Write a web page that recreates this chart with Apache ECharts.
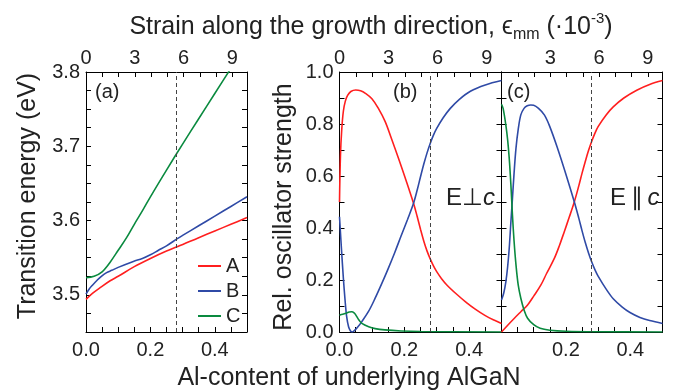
<!DOCTYPE html>
<html>
<head>
<meta charset="utf-8">
<script src="https://cdn.jsdelivr.net/npm/echarts@6/dist/echarts.min.js"></script>
<style>
html, body { margin: 0; padding: 0; background: #fff; }
#chart { width: 679px; height: 392px; }
</style>
</head>
<body>
<div id="chart"></div>
<script>
var FONT = '"Liberation Sans", Arial, Helvetica, sans-serif';
var RED = '#ff1f1f', BLUE = '#2f4aa6', GREEN = '#0a8a3f';

// tick labels
var alLabels = [0, 0.2, 0.4];
var alLabelsC = [0.2, 0.4];
var strainLabels = [0, 3, 6, 9];
var strainLabelsC = [3, 6, 9];
var energyLabels = [3.5, 3.6, 3.7, 3.8];
var strengthLabels = [0, 0.2, 0.4, 0.6, 0.8, 1.0];
var strainMax = 9.9;      // strain at Al = 0.5
var dashAl = 0.285;       // vertical dashed marker

// (a) transition energy (eV) vs Al-content
var energyA = [[0, 3.494], [0.02, 3.502], [0.045, 3.510], [0.075, 3.519], [0.1, 3.525], [0.15, 3.538],
  [0.2, 3.549], [0.25, 3.559], [0.285, 3.565], [0.35, 3.577], [0.4, 3.586], [0.45, 3.595], [0.5, 3.604]];
var energyB = [[0, 3.501], [0.01, 3.508], [0.02, 3.513], [0.033, 3.519], [0.045, 3.524], [0.064, 3.530],
  [0.08, 3.533], [0.1, 3.537], [0.147, 3.545], [0.175, 3.549], [0.2, 3.554], [0.225, 3.560], [0.25, 3.566],
  [0.285, 3.576], [0.3, 3.580], [0.35, 3.593], [0.4, 3.606], [0.45, 3.619], [0.5, 3.632]];
var energyC = [[0, 3.523], [0.025, 3.525], [0.05, 3.531], [0.075, 3.544], [0.1, 3.560], [0.126, 3.577],
  [0.15, 3.595], [0.175, 3.613], [0.2, 3.632], [0.25, 3.668], [0.3, 3.703], [0.35, 3.737], [0.4, 3.771],
  [0.45, 3.805], [0.5, 3.839]];

// (b) relative oscillator strength, E perpendicular to c
var perpA = [[0, 0.50], [0.003, 0.68], [0.007, 0.78], [0.012, 0.85], [0.018, 0.888], [0.025, 0.910],
  [0.035, 0.925], [0.05, 0.931], [0.065, 0.928], [0.08, 0.918], [0.1, 0.897], [0.12, 0.860], [0.141, 0.809],
  [0.16, 0.745], [0.182, 0.668], [0.2, 0.603], [0.215, 0.547], [0.2285, 0.495], [0.24, 0.443], [0.25, 0.395],
  [0.26, 0.350], [0.27, 0.312], [0.28, 0.281], [0.29, 0.254], [0.3, 0.232], [0.315, 0.205], [0.332, 0.180],
  [0.36, 0.147], [0.39, 0.115], [0.42, 0.087], [0.45, 0.063], [0.48, 0.044], [0.5, 0.033]];
var perpB = [[0, 0.443], [0.006, 0.32], [0.012, 0.206], [0.017, 0.125], [0.022, 0.060], [0.028, 0.020],
  [0.034, 0.004], [0.039, 0.0], [0.045, 0.004], [0.055, 0.017], [0.069, 0.040], [0.09, 0.080], [0.11, 0.130],
  [0.13, 0.185], [0.15, 0.243], [0.17, 0.304], [0.19, 0.369], [0.21, 0.433], [0.2285, 0.495], [0.24, 0.547],
  [0.25, 0.597], [0.26, 0.645], [0.27, 0.688], [0.28, 0.725], [0.29, 0.757], [0.3, 0.783], [0.32, 0.824],
  [0.342, 0.860], [0.37, 0.895], [0.404, 0.926], [0.45, 0.950], [0.5, 0.967]];
var perpC = [[0, 0.065], [0.01, 0.068], [0.02, 0.072], [0.03, 0.077], [0.038, 0.078], [0.045, 0.074],
  [0.05, 0.066], [0.06, 0.046], [0.069, 0.033], [0.09, 0.020], [0.11, 0.013], [0.14, 0.008], [0.19, 0.004],
  [0.25, 0.002], [0.5, 0.0]];

// (c) relative oscillator strength, E parallel to c
var parA = [[0, 0.0], [0.02, 0.027], [0.04, 0.053], [0.06, 0.078], [0.081, 0.104], [0.1, 0.138], [0.122, 0.180],
  [0.14, 0.225], [0.164, 0.283], [0.18, 0.333], [0.195, 0.386], [0.21, 0.440], [0.226, 0.500], [0.24, 0.562],
  [0.25, 0.610], [0.26, 0.655], [0.27, 0.697], [0.28, 0.733], [0.29, 0.764], [0.3, 0.790], [0.325, 0.835],
  [0.347, 0.866], [0.38, 0.900], [0.42, 0.930], [0.46, 0.952], [0.5, 0.967]];
var parB = [[0, 0.123], [0.007, 0.150], [0.0135, 0.193], [0.019, 0.250], [0.024, 0.322], [0.029, 0.420],
  [0.034, 0.514], [0.039, 0.610], [0.045, 0.707], [0.052, 0.780], [0.06, 0.835], [0.07, 0.860], [0.08, 0.870],
  [0.091, 0.873], [0.1, 0.872], [0.115, 0.860], [0.133, 0.835], [0.15, 0.790], [0.174, 0.707], [0.2, 0.607],
  [0.226, 0.501], [0.24, 0.438], [0.25, 0.390], [0.26, 0.345], [0.27, 0.305], [0.28, 0.270], [0.29, 0.240],
  [0.3, 0.215], [0.325, 0.165], [0.347, 0.128], [0.375, 0.096], [0.399, 0.075], [0.43, 0.056], [0.46, 0.044],
  [0.5, 0.033]];
var parC = [[0, 0.876], [0.005, 0.860], [0.0135, 0.796], [0.019, 0.740], [0.024, 0.668], [0.029, 0.570],
  [0.034, 0.450], [0.039, 0.350], [0.045, 0.258], [0.052, 0.180], [0.06, 0.130], [0.07, 0.085], [0.081, 0.053],
  [0.1, 0.028], [0.12, 0.014], [0.15, 0.007], [0.2, 0.003], [0.3, 0.001], [0.5, 0.0]];

function hasLabel(list, v) {
  for (var i = 0; i < list.length; i++) {
    if (Math.abs(list[i] - v) < 1e-6) return true;
  }
  return false;
}

function frameAxis(extra) {
  var ax = {
    type: 'value',
    axisLine: { show: true, onZero: false, lineStyle: { color: '#000', width: 1 } },
    axisTick: { show: true, inside: true, length: 5, lineStyle: { color: '#000', width: 1 } },
    splitLine: { show: false }
  };
  for (var k in extra) ax[k] = extra[k];
  return ax;
}

function alAxis(grid, labels) {
  return frameAxis({
    gridIndex: grid, position: 'bottom', min: 0, max: 0.5, interval: 0.05,
    axisLabel: { color: '#222', fontSize: 20, fontFamily: FONT, margin: 8,
      formatter: function (v) { return hasLabel(labels, v) ? v.toFixed(1) : ''; } }
  });
}
function strainAxis(grid, labels) {
  return frameAxis({
    gridIndex: grid, position: 'top', min: 0, max: strainMax, interval: 1,
    axisLabel: { color: '#222', fontSize: 20, fontFamily: FONT, margin: 4,
      formatter: function (v) { return hasLabel(labels, v) ? String(v) : ''; } }
  });
}
function sideAxis(grid, pos, min, max, step, labels, digits) {
  return frameAxis({
    gridIndex: grid, position: pos, min: min, max: max, interval: step,
    axisLabel: { show: !!labels, color: '#222', fontSize: 20, fontFamily: FONT, margin: 6,
      formatter: function (v) { return labels && hasLabel(labels, v) ? v.toFixed(digits) : ''; } }
  });
}

function curve(name, color, data, axis) {
  return {
    name: name, type: 'line', xAxisIndex: axis, yAxisIndex: axis, data: data,
    showSymbol: false, symbol: 'none', smooth: 0.35,
    lineStyle: { color: color, width: 1.6 }, itemStyle: { color: color },
    silent: true, z: 3
  };
}
function dashed() {
  return {
    silent: true, symbol: 'none', label: { show: false }, animation: false,
    lineStyle: { type: [4, 3], color: '#444', width: 1 },
    data: [{ xAxis: dashAl }]
  };
}

var series = [
  curve('A', RED, energyA, 0), curve('B', BLUE, energyB, 0), curve('C', GREEN, energyC, 0),
  curve('A', RED, perpA, 2), curve('B', BLUE, perpB, 2), curve('C', GREEN, perpC, 2),
  curve('A', RED, parA, 4), curve('B', BLUE, parB, 4), curve('C', GREEN, parC, 4)
];
series[0].markLine = dashed();
series[3].markLine = dashed();
series[6].markLine = dashed();

var chart = echarts.init(document.getElementById('chart'));
chart.setOption({
  animation: false,
  backgroundColor: '#fff',
  textStyle: { fontFamily: FONT },
  grid: [
    { left: 86, top: 72, width: 161, height: 260 },
    { left: 339.5, top: 72, width: 162, height: 260 },
    { left: 501.5, top: 72, width: 161, height: 260 }
  ],
  // index pairs: 0/1 panel a, 2/3 panel b, 4/5 panel c
  xAxis: [
    alAxis(0, alLabels), strainAxis(0, strainLabels),
    alAxis(1, alLabels), strainAxis(1, strainLabels),
    alAxis(2, alLabelsC), strainAxis(2, strainLabelsC)
  ],
  yAxis: [
    sideAxis(0, 'left', 3.45, 3.8, 0.025, energyLabels, 1), sideAxis(0, 'right', 3.45, 3.8, 0.025, null),
    sideAxis(1, 'left', 0, 1, 0.1, strengthLabels, 1), sideAxis(1, 'right', 0, 1, 0.1, null),
    sideAxis(2, 'left', 0, 1, 0.1, null), sideAxis(2, 'right', 0, 1, 0.1, null)
  ],
  legend: {
    data: ['A', 'B', 'C'], orient: 'vertical', left: 193, top: 251,
    icon: 'rect', itemWidth: 23, itemHeight: 2, itemGap: 5,
    textStyle: { fontSize: 20, color: '#222', fontFamily: FONT }, selectedMode: false
  },
  graphic: [
    { type: 'text', x: 371, y: 27, style: {
      text: '{t|Strain along the growth direction, }{e|\u03f5}{s|mm}{t| (\u00b710}{p|-3}{t|)}',
      textAlign: 'center', textVerticalAlign: 'middle', fill: '#222',
      rich: {
        t: { fontSize: 25, fontFamily: FONT, lineHeight: 32, fill: '#222' },
        e: { fontSize: 25, fontFamily: FONT, lineHeight: 32, fill: '#222' },
        s: { fontSize: 16, fontFamily: FONT, lineHeight: 12, verticalAlign: 'bottom', fill: '#222' },
        p: { fontSize: 15, fontFamily: FONT, lineHeight: 25, verticalAlign: 'top', fill: '#222' }
      } } },
    { type: 'text', x: 349, y: 378, style: {
      text: 'Al-content of underlying AlGaN', font: '25px ' + FONT, fill: '#222',
      textAlign: 'center', textVerticalAlign: 'middle' } },
    { type: 'text', x: 28, y: 196, rotation: Math.PI / 2, style: {
      text: 'Transition energy (eV)', font: '25px ' + FONT, fill: '#222',
      textAlign: 'center', textVerticalAlign: 'middle' } },
    { type: 'text', x: 284, y: 207, rotation: Math.PI / 2, style: {
      text: 'Rel. oscillator strength', font: '25px ' + FONT, fill: '#222',
      textAlign: 'center', textVerticalAlign: 'middle' } },
    { type: 'text', x: 95, y: 92, style: { text: '(a)', font: '20px ' + FONT, fill: '#222', textVerticalAlign: 'middle' } },
    { type: 'text', x: 393, y: 92, style: { text: '(b)', font: '20px ' + FONT, fill: '#222', textVerticalAlign: 'middle' } },
    { type: 'text', x: 507, y: 92, style: { text: '(c)', font: '20px ' + FONT, fill: '#222', textVerticalAlign: 'middle' } },
    { type: 'text', x: 446, y: 198, style: {
      text: '{r|E\u22a5}{i|c}', textVerticalAlign: 'middle', fill: '#222',
      rich: { r: { fontSize: 24, fontFamily: FONT, fill: '#222' },
              i: { fontSize: 24, fontFamily: FONT, fontStyle: 'italic', fill: '#222' } } } },
    { type: 'text', x: 610, y: 198, style: {
      text: '{r|E\u2009\u2225\u2009}{i|c}', textVerticalAlign: 'middle', fill: '#222',
      rich: { r: { fontSize: 24, fontFamily: FONT, fill: '#222' },
              i: { fontSize: 24, fontFamily: FONT, fontStyle: 'italic', fill: '#222' } } } }
  ],
  series: series
});
window.onresize = chart.resize;
</script>
</body>
</html>
